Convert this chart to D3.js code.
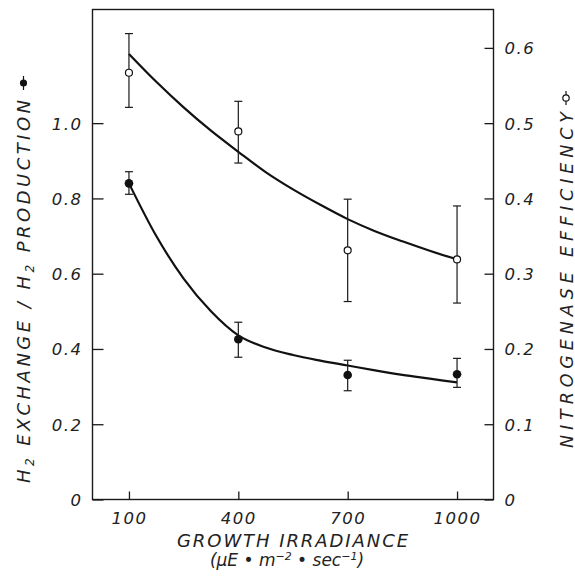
<!DOCTYPE html>
<html><head><meta charset="utf-8">
<script src="https://cdn.jsdelivr.net/npm/d3@7"></script>
<style>
html,body{margin:0;padding:0;background:#fff;}
svg text{font-family:"DejaVu Sans",sans-serif;font-style:italic;font-weight:300;fill:#222;}
</style></head>
<body>
<svg id="c" width="575" height="586"></svg>
<script>
// ---- data ----
const irradiance = [100, 400, 700, 1000];
const h2Ratio   = [0.840, 0.426, 0.331, 0.333];
const h2RatioHi = [0.871, 0.471, 0.370, 0.375];
const h2RatioLo = [0.811, 0.378, 0.289, 0.298];
const n2Eff     = [0.567, 0.489, 0.331, 0.319];
const n2EffHi   = [0.619, 0.529, 0.399, 0.390];
const n2EffLo   = [0.521, 0.447, 0.263, 0.261];
const fitX      = [100, 175, 250, 325, 400, 475, 550, 625, 700, 775, 850, 925, 1000];
const h2Fit     = [0.840, 0.700, 0.587, 0.500, 0.436, 0.404, 0.384, 0.369, 0.356, 0.343, 0.331, 0.321, 0.311];
const n2Fit     = [0.592, 0.555, 0.521, 0.490, 0.462, 0.435, 0.412, 0.3915, 0.3725, 0.3565, 0.343, 0.3305, 0.319];
const xTicks    = [100, 400, 700, 1000];
const leftTicks = [0, 0.2, 0.4, 0.6, 0.8, 1.0];
const leftTickLabels = ["0", "0.2", "0.4", "0.6", "0.8", "1.0"];
const rightTicks = [0, 0.1, 0.2, 0.3, 0.4, 0.5, 0.6];
const rightTickLabels = ["0", "0.1", "0.2", "0.3", "0.4", "0.5", "0.6"];

const L = 92.5, R = 493.5, T = 9.5, B = 499.5;
const svg = d3.select("#c");
const x = d3.scaleLinear().domain([0, 1100]).range([L, R]);
const yL = d3.scaleLinear().domain([0, 1.302]).range([B, T]);
const yR = d3.scaleLinear().domain([0, 0.651]).range([B, T]);

// frame
svg.append("rect").attr("x", L).attr("y", T).attr("width", R - L).attr("height", B - T)
  .attr("fill", "none").attr("stroke", "#1a1a1a").attr("stroke-width", 1.4);

// axes (inward ticks)
const axL = d3.axisLeft(yL).tickValues(leftTicks).tickSize(-11).tickFormat((d,i)=>leftTickLabels[i]).tickPadding(10);
const gL = svg.append("g").attr("transform", `translate(${L},0)`).call(axL);
const axR = d3.axisRight(yR).tickValues(rightTicks).tickSize(-9).tickFormat((d,i)=>rightTickLabels[i]).tickPadding(11);
const gR = svg.append("g").attr("transform", `translate(${R},0)`).call(axR);
const axB = d3.axisBottom(x).tickValues(xTicks).tickSize(-8).tickFormat(d3.format("d")).tickPadding(13);
const gB = svg.append("g").attr("transform", `translate(0,${B})`).call(axB);
[gL, gR, gB].forEach(g => {
  g.select(".domain").remove();
  g.selectAll(".tick line").attr("stroke", "#1a1a1a").attr("stroke-width", 1.3);
  g.selectAll(".tick text").attr("font-size", 16.5).attr("letter-spacing", 1.5)
    .style("font-family", "'DejaVu Sans',sans-serif").attr("fill", "#222");
});
gL.selectAll(".tick text").attr("dy", "0.36em");
gR.selectAll(".tick text").attr("dy", "0.36em");
gB.selectAll(".tick text").attr("dy", "0.71em");

// fitted curves
const line = d3.line().curve(d3.curveMonotoneX);
svg.append("path").attr("d", line(fitX.map((v,i)=>[x(v), yL(h2Fit[i])])))
  .attr("fill","none").attr("stroke","#111").attr("stroke-width",2.2);
svg.append("path").attr("d", line(fitX.map((v,i)=>[x(v), yR(n2Fit[i])])))
  .attr("fill","none").attr("stroke","#111").attr("stroke-width",2.2);

// error bars
function errBars(lo, hi, yS) {
  const g = svg.append("g").attr("stroke", "#1a1a1a").attr("stroke-width", 1.2);
  irradiance.forEach((v,i) => {
    const cx = x(v);
    g.append("line").attr("x1",cx).attr("x2",cx).attr("y1",yS(lo[i])).attr("y2",yS(hi[i]));
    g.append("line").attr("x1",cx-4).attr("x2",cx+4).attr("y1",yS(lo[i])).attr("y2",yS(lo[i]));
    g.append("line").attr("x1",cx-4).attr("x2",cx+4).attr("y1",yS(hi[i])).attr("y2",yS(hi[i]));
  });
}
errBars(h2RatioLo, h2RatioHi, yL);
errBars(n2EffLo, n2EffHi, yR);

svg.append("g").selectAll("circle").data(irradiance).join("circle")
  .attr("cx", d=>x(d)).attr("cy", (d,i)=>yL(h2Ratio[i])).attr("r", 4.3).attr("fill", "#111");
svg.append("g").selectAll("circle").data(irradiance).join("circle")
  .attr("cx", d=>x(d)).attr("cy", (d,i)=>yR(n2Eff[i])).attr("r", 3.5)
  .attr("fill", "#fff").attr("stroke", "#111").attr("stroke-width", 1.2);

// left title
const gt = svg.append("g").attr("transform", "translate(30,483) rotate(-90)");
const tl = gt.append("text").attr("x", 0).attr("y", 0).attr("font-size", 18)
  .attr("textLength", 383).attr("lengthAdjust", "spacing");
tl.append("tspan").text("H");
tl.append("tspan").attr("font-size", 12).attr("dy", 4).text("2");
tl.append("tspan").attr("dy", -4).text(" EXCHANGE / H");
tl.append("tspan").attr("font-size", 12).attr("dy", 4).text("2");
tl.append("tspan").attr("dy", -4).text(" PRODUCTION");
gt.append("line").attr("x1", 393).attr("x2", 407).attr("y1", -6.5).attr("y2", -6.5).attr("stroke", "#111").attr("stroke-width", 1.2);
gt.append("circle").attr("cx", 400).attr("cy", -6.5).attr("r", 3.6).attr("fill", "#111");

// right title
const gr = svg.append("g").attr("transform", "translate(572.5,448) rotate(-90)");
gr.append("text").attr("x", 0).attr("y", 0).attr("font-size", 17.5)
  .attr("textLength", 336).attr("lengthAdjust", "spacing").text("NITROGENASE EFFICIENCY");
gr.append("line").attr("x1", 343).attr("x2", 357).attr("y1", -6.5).attr("y2", -6.5).attr("stroke", "#111").attr("stroke-width", 1.2);
gr.append("circle").attr("cx", 350).attr("cy", -6.5).attr("r", 3.2).attr("fill", "#fff").attr("stroke", "#111").attr("stroke-width", 1.2);

// bottom title
svg.append("text").attr("x", 292.5).attr("y", 547).attr("text-anchor", "middle").attr("font-size", 18)
  .attr("textLength", 231).attr("lengthAdjust", "spacing").text("GROWTH IRRADIANCE");
const t2 = svg.append("text").attr("x", 287).attr("y", 566).attr("text-anchor", "middle").attr("font-size", 17);
t2.append("tspan").text("(\u03BCE \u2022 m");
t2.append("tspan").attr("font-size", 11).attr("dy", -6).text("\u22122");
t2.append("tspan").attr("dy", 6).text(" \u2022 sec");
t2.append("tspan").attr("font-size", 11).attr("dy", -6).text("\u22121");
t2.append("tspan").attr("dy", 6).text(")");
</script>
</body></html>
